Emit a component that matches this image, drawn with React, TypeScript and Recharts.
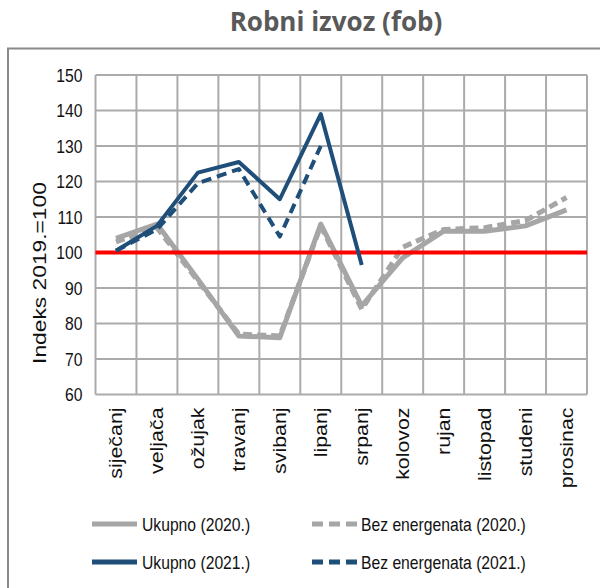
import React from 'react';
import { LineChart, Line, XAxis, YAxis, CartesianGrid, ReferenceLine } from 'recharts';

const months = ['siječanj', 'veljača', 'ožujak', 'travanj', 'svibanj', 'lipanj', 'srpanj', 'kolovoz', 'rujan', 'listopad', 'studeni', 'prosinac'];
const ukupno2020 = [104, 108, 92.5, 76.5, 76, 108, 85, 98.5, 106, 106, 107.5, 112];
const bez2020 = [103, 107, 92, 77, 76.5, 107.5, 84, 101.5, 106.5, 107, 109, 115.5];
const ukupno2021 = [100.5, 107.5, 122.5, 125.5, 115, 139, 96.5, null, null, null, null, null];
const bez2021 = [100.5, 106.5, 119.5, 123.5, 104.5, 130, null, null, null, null, null, null];
const yTicks = [60, 70, 80, 90, 100, 110, 120, 130, 140, 150];
const baseline = 100;

const GREY = '#a6a6a6';
const NAVY = '#1f4e79';
const FONT = '"Liberation Sans", Arial, sans-serif';
const STRETCH = 1.22; // the source picture is stretched vertically

const series = [
  { key: 'ukupno2020', name: 'Ukupno (2020.)', color: GREY, width: 5, dash: undefined },
  { key: 'bez2020', name: 'Bez energenata (2020.)', color: GREY, width: 5, dash: '9 5' },
  { key: 'ukupno2021', name: 'Ukupno (2021.)', color: NAVY, width: 4, dash: undefined },
  { key: 'bez2021', name: 'Bez energenata (2021.)', color: NAVY, width: 4, dash: '10 6' },
];

const rows = months.map((month, i) => ({
  month,
  ukupno2020: ukupno2020[i],
  bez2020: bez2020[i],
  ukupno2021: ukupno2021[i],
  bez2021: bez2021[i],
}));

const XTick = (props: any) => {
  const { x, y, payload } = props;
  return (
    <g transform={`translate(${x},${y + 5}) scale(1,${STRETCH}) rotate(-90)`}>
      <text textAnchor="end" dominantBaseline="central" fontSize={17.5} fontFamily={FONT} fill="#111">
        {payload.value}
      </text>
    </g>
  );
};

const YTick = (props: any) => {
  const { x, y, payload } = props;
  return (
    <g transform={`translate(${x - 5},${y}) scale(1,${STRETCH})`}>
      <text textAnchor="end" dominantBaseline="central" fontSize={15.7} fontFamily={FONT} fill="#111">
        {payload.value}
      </text>
    </g>
  );
};

const Legend = () => {
  const cols = [92, 312];
  const rowsY = [524, 562];
  return (
    <>
      {series.map((s, i) => {
        const col = cols[i % 2];
        const yy = rowsY[Math.floor(i / 2)];
        return (
          <g key={s.key}>
            <line x1={col} x2={col + 45} y1={yy} y2={yy} stroke={s.color} strokeWidth={5}
              strokeDasharray={s.dash ? '11 6' : undefined} />
            <g transform={`translate(${col + (i % 2 ? 49 : 50)},${yy}) scale(1,1.2)`}>
              <text dominantBaseline="central" fontSize={15.7} fontFamily={FONT} fill="#111">{s.name}</text>
            </g>
          </g>
        );
      })}
    </>
  );
};

export default function App() {
  return (
    <div style={{ position: 'absolute', left: 0, top: 0, width: 600, height: 588, background: '#fff', overflow: 'hidden' }}>
      <div style={{ position: 'absolute', left: 0, top: 0 }}>
        <LineChart width={600} height={588} data={rows} margin={{ top: 75, right: 13, bottom: 93.5, left: 35.5 }}>
          <CartesianGrid
            stroke="#ababab"
            strokeWidth={2}
            verticalCoordinatesGenerator={({ offset }: any) =>
              Array.from({ length: months.length + 1 }, (_, i) => offset.left + (i * offset.width) / months.length)
            }
          />
          <XAxis dataKey="month" scale="band" height={100} axisLine={false} tickLine={false} interval={0} tick={<XTick />} />
          <YAxis domain={[60, 150]} ticks={yTicks} width={60} axisLine={false} tickLine={false} interval={0} tick={<YTick />} />
          {series.slice(0, 2).map((s) => (
            <Line key={s.key} dataKey={s.key} name={s.name} stroke={s.color} strokeWidth={s.width}
              strokeDasharray={s.dash} dot={false} activeDot={false} strokeLinejoin="round"
              isAnimationActive={false} connectNulls={false} />
          ))}
          <ReferenceLine y={baseline} stroke="#ff0000" strokeWidth={4} />
          {series.slice(2).map((s) => (
            <Line key={s.key} dataKey={s.key} name={s.name} stroke={s.color} strokeWidth={s.width}
              strokeDasharray={s.dash} dot={false} activeDot={false} strokeLinejoin="round"
              isAnimationActive={false} connectNulls={false} />
          ))}
        </LineChart>
      </div>
      <svg width={600} height={588} style={{ position: 'absolute', left: 0, top: 0, pointerEvents: 'none' }}>
        <text x={336} y={31} textAnchor="middle" fontSize={26} fontWeight={700} fontFamily='"Open Sans", sans-serif' fill="#595959">
          Robni izvoz (fob)
        </text>
        <path d="M8,590 L8,48.5 L602,48.5" fill="none" stroke="#8a8a8a" strokeWidth={2} />
        <g transform={`translate(39,273) scale(1,1.2) rotate(-90)`}>
          <text textAnchor="middle" dominantBaseline="central" fontSize={19} fontFamily={FONT} fill="#111">
            Indeks 2019.=100
          </text>
        </g>
        <Legend />
      </svg>
    </div>
  );
}
